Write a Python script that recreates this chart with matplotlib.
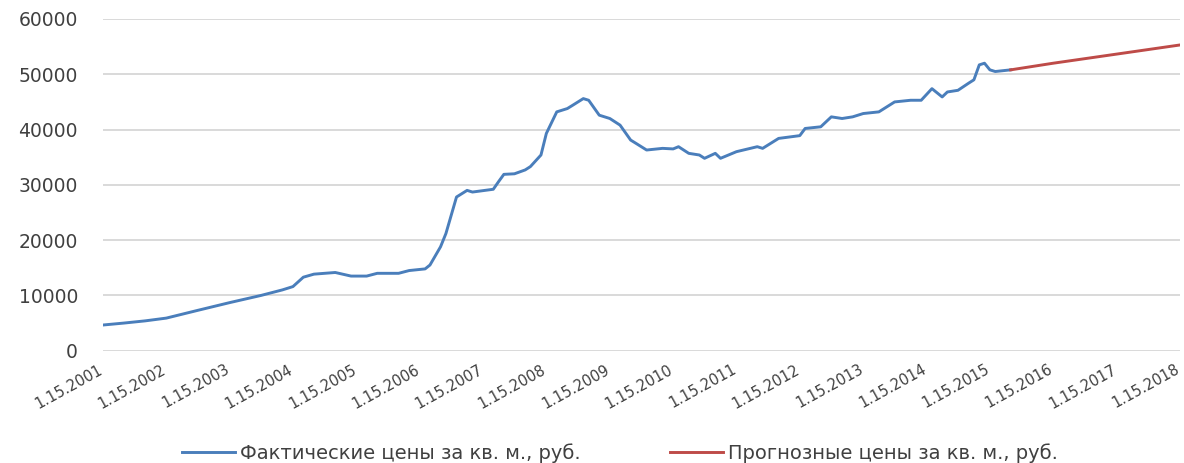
import matplotlib
matplotlib.use("Agg")
import matplotlib.pyplot as plt
import matplotlib.transforms as mtransforms
import pandas as pd

# Actual prices (RUB per sq. m.)
actual_dates = [
    "2001-01-15", "2001-05-15", "2001-09-15", "2002-01-15", "2002-07-15",
    "2003-01-15", "2003-07-15", "2003-11-15", "2004-01-15", "2004-03-15",
    "2004-05-15", "2004-09-15", "2004-12-15", "2005-03-15", "2005-05-15",
    "2005-09-15", "2005-11-15", "2006-02-15", "2006-03-15", "2006-05-15",
    "2006-06-15", "2006-08-15", "2006-10-15", "2006-11-15", "2007-03-15",
    "2007-04-15", "2007-05-15", "2007-07-15", "2007-09-15", "2007-10-15",
    "2007-12-15", "2008-01-15", "2008-03-15", "2008-05-15", "2008-06-15",
    "2008-08-15", "2008-09-15", "2008-11-15", "2009-01-15", "2009-03-15",
    "2009-05-15", "2009-06-15", "2009-08-15", "2009-11-15", "2010-01-15",
    "2010-02-15", "2010-04-15", "2010-06-15", "2010-07-15", "2010-09-15",
    "2010-10-15", "2011-01-15", "2011-05-15", "2011-06-15", "2011-09-15",
    "2012-01-15", "2012-02-15", "2012-05-15", "2012-07-15", "2012-09-15",
    "2012-11-15", "2013-01-15", "2013-04-15", "2013-07-15", "2013-10-15",
    "2013-12-15", "2014-02-15", "2014-04-15", "2014-05-15", "2014-07-15",
    "2014-09-15", "2014-10-15", "2014-11-15", "2014-12-15", "2015-01-15",
    "2015-02-15", "2015-05-15",
]
actual_values = [
    4650, 5000, 5400, 5900, 7300,
    8700, 10000, 11000, 11600, 13300,
    13850, 14150, 13500, 13500, 14000,
    14000, 14500, 14800, 15500, 18800,
    21200, 27800, 29000, 28700, 29200,
    30600, 31900, 32000, 32700, 33300,
    35400, 39300, 43200, 43800, 44400,
    45600, 45300, 42600, 42000, 40800,
    38100, 37500, 36300, 36600, 36500,
    36900, 35700, 35400, 34800, 35700,
    34800, 36000, 36900, 36600, 38400,
    38900, 40200, 40500, 42300, 42000,
    42300, 42900, 43200, 45000, 45300,
    45300, 47400, 45900, 46800, 47100,
    48400, 49000, 51700, 52000, 50800,
    50500, 50800,
]

# Forecast prices
forecast_dates = ["2015-05-15", "2016-01-15", "2017-01-15", "2018-01-15"]
forecast_values = [50800, 52000, 53650, 55300]

year_ticks = [f"{y}-01-15" for y in range(2001, 2019)]
tick_labels = [f"1.15.{y}" for y in range(2001, 2019)]

label_actual = "Фактические цены за кв. м., руб."
label_forecast = "Прогнозные цены за кв. м., руб."

plt.rcParams['font.family'] = ['DejaVu Sans']
text_color = "#404040"

fig = plt.figure(figsize=(11.84, 4.63), dpi=100)
ax = fig.add_axes([0.087, 0.2425, 0.9096, 0.7165])

l1, = ax.plot(pd.to_datetime(actual_dates), actual_values, color="#4a7ebb",
              linewidth=2.1, label=label_actual, solid_joinstyle="round")
l2, = ax.plot(pd.to_datetime(forecast_dates), forecast_values, color="#be4b48",
              linewidth=2.1, label=label_forecast)

ax.set_ylim(0, 60000)
ax.set_yticks(range(0, 60001, 10000))
ax.set_xlim(pd.Timestamp(year_ticks[0]), pd.Timestamp(year_ticks[-1]))
ax.set_xticks(pd.to_datetime(year_ticks))
ax.tick_params(axis="y", labelsize=13.5, labelcolor=text_color, length=0, pad=18)
ax.tick_params(axis="x", length=0, pad=8)
ax.set_xticklabels(tick_labels, rotation=29, ha="right", rotation_mode="anchor",
                   fontsize=10.5, color=text_color)
shift = mtransforms.ScaledTranslation(-5 / 100, 0, fig.dpi_scale_trans)
for lab in ax.get_xticklabels():
    lab.set_transform(lab.get_transform() + shift)

ax.grid(axis="y", color="#d9d9d9", linewidth=1.4)
ax.set_axisbelow(True)
for s in ax.spines.values():
    s.set_visible(False)

leg_kw = dict(frameon=False, fontsize=14, handlelength=2.7, handletextpad=0.3,
              borderpad=0, borderaxespad=0, labelcolor=text_color)
leg1 = fig.legend(handles=[l1], loc="center left",
                  bbox_to_anchor=(182 / 1184, 1 - 453 / 463), **leg_kw)
leg2 = fig.legend(handles=[l2], loc="center left",
                  bbox_to_anchor=(670 / 1184, 1 - 453 / 463), **leg_kw)

fig.savefig("out.png", dpi=100, facecolor="white")
